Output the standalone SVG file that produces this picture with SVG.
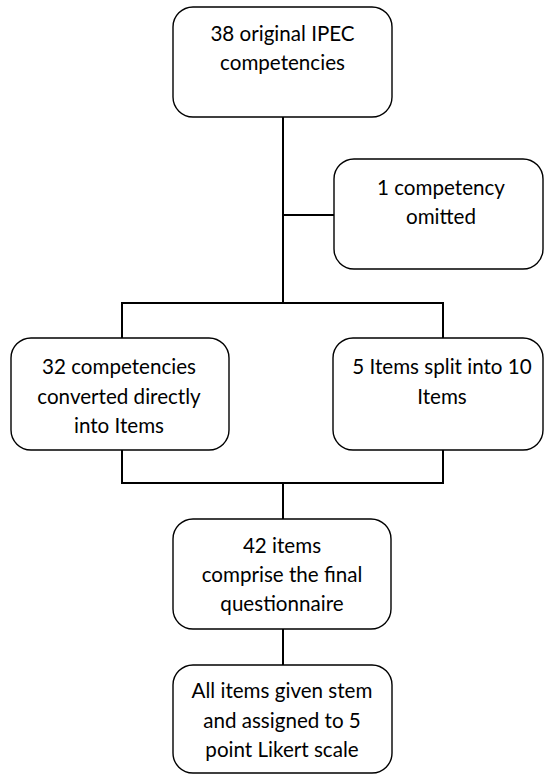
<svg xmlns="http://www.w3.org/2000/svg" width="544" height="775" viewBox="0 0 544 775">
<style>
.box{fill:#fff;stroke:#000;stroke-width:1.4}
.ln{fill:none;stroke:#000;stroke-width:2}
text{font-family:Lato,"Liberation Sans",sans-serif;font-size:20.6px;fill:#000;text-anchor:middle}
</style>
<rect width="544" height="775" fill="#fff"/>
<g id="connectors">
<path class="ln" d="M283 117 V303"/>
<path class="ln" d="M283 215 H334"/>
<path class="ln" d="M122 338 V303 H443 V338"/>
<path class="ln" d="M122 450 V483 H443 V450"/>
<path class="ln" d="M283 483 V519"/>
<path class="ln" d="M283 629 V665"/>
</g>
<g id="n1">
<rect class="box" x="173" y="7" width="219" height="110" rx="20"/>
<text x="282.5" y="41">38 original IPEC</text>
<text x="282.5" y="70">competencies</text>
</g>
<g id="n2">
<rect class="box" x="334" y="159" width="209" height="110" rx="20"/>
<text x="441" y="195">1 competency</text>
<text x="441" y="224">omitted</text>
</g>
<g id="n3">
<rect class="box" x="11" y="338" width="218" height="112" rx="20"/>
<text x="119" y="374">32 competencies</text>
<text x="119" y="404">converted directly</text>
<text x="119" y="433">into Items</text>
</g>
<g id="n4">
<rect class="box" x="333" y="338" width="210" height="112" rx="20"/>
<text x="442" y="374">5 Items split into 10</text>
<text x="442" y="404">Items</text>
</g>
<g id="n5">
<rect class="box" x="173" y="519" width="218" height="110" rx="20"/>
<text x="282" y="553">42 items</text>
<text x="282" y="582">comprise the final</text>
<text x="282" y="611">questionnaire</text>
</g>
<g id="n6">
<rect class="box" x="173" y="665" width="219" height="108" rx="20"/>
<text x="282" y="698">All items given stem</text>
<text x="282" y="728">and assigned to 5</text>
<text x="282" y="757">point Likert scale</text>
</g>
</svg>
